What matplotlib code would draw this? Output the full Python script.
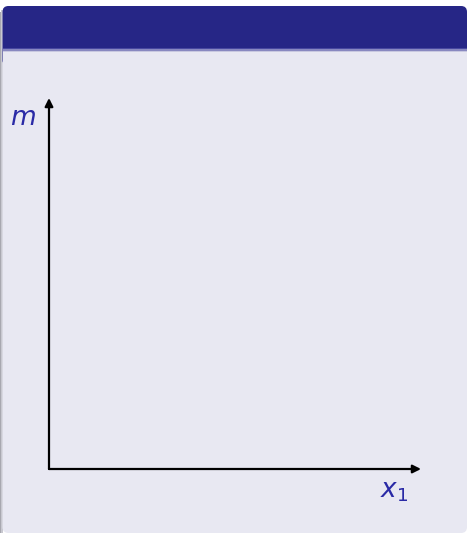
import matplotlib
matplotlib.use("Agg")
import matplotlib.pyplot as plt
from matplotlib.patches import FancyBboxPatch, Rectangle

# Axis labels of the (empty) sketch
axis_labels = [r"$x_1$", r"$m$"]
# axis extent in sketch units: origin, x end, y end
x_range = [0.0, 1.0]
y_range = [0.0, 1.0]

header_color = "#262686"
body_color = "#e8e8f2"
text_color = "#2a2aa6"

fig = plt.figure(figsize=(4.68, 5.33), dpi=100)
fig.patch.set_facecolor("white")

# background axes in pixel coords for the beamer block
bg = fig.add_axes([0, 0, 1, 1])
bg.set_xlim(0, 468)
bg.set_ylim(533, 0)
bg.axis("off")

# shadow on the left edge
bg.add_patch(Rectangle((0, 12), 2, 521, facecolor="#a8a8b0", edgecolor="none"))
bg.add_patch(Rectangle((1, 10), 2, 523, facecolor="#c8c8d0", edgecolor="none"))
# body
bg.add_patch(FancyBboxPatch((2.5, 6), 464.5, 527, boxstyle="round,pad=0,rounding_size=6",
                            facecolor=body_color, edgecolor="none"))
# header
bg.add_patch(FancyBboxPatch((2.5, 6), 464.5, 60, boxstyle="round,pad=0,rounding_size=6",
                            facecolor=header_color, edgecolor="none"))
bg.add_patch(Rectangle((2.5, 47.5), 464.5, 1.5, facecolor="#4848a0", edgecolor="none"))
bg.add_patch(Rectangle((2.5, 49), 464.5, 1.5, facecolor="#8888c0", edgecolor="none"))
bg.add_patch(Rectangle((2.5, 50.5), 464.5, 1.5, facecolor="#c8c8e0", edgecolor="none"))
bg.add_patch(Rectangle((2.5, 52), 464.5, 20, facecolor=body_color, edgecolor="none"))

# the sketch axes
ax = fig.add_axes([49 / 468, (533 - 469) / 533, (421 - 49) / 468, (469 - 98) / 533])
ax.set_xlim(x_range)
ax.set_ylim(y_range)
ax.axis("off")
ax.patch.set_alpha(0)

arrow = dict(arrowstyle="-|>", color="black", lw=1.6, mutation_scale=12,
             shrinkA=0, shrinkB=0)
ax.annotate("", xy=(x_range[1], y_range[0]), xytext=(x_range[0], y_range[0]),
            arrowprops=arrow, annotation_clip=False)
ax.annotate("", xy=(x_range[0], y_range[1]), xytext=(x_range[0], y_range[0]),
            arrowprops=arrow, annotation_clip=False)

ax.text(0.927, -0.06, axis_labels[0], color=text_color, fontsize=19,
        ha="center", va="center", transform=ax.transAxes)
ax.text(-0.07, 0.945, axis_labels[1], color=text_color, fontsize=19,
        ha="center", va="center", transform=ax.transAxes)

fig.savefig("out.png", dpi=100)
